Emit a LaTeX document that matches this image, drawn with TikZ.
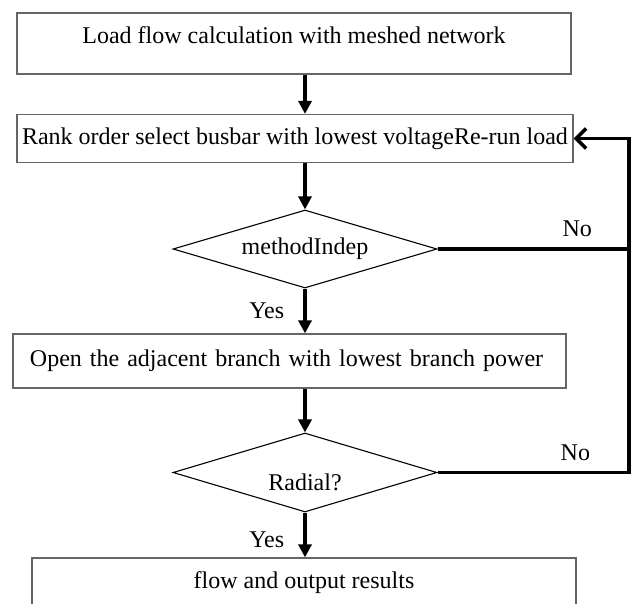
\documentclass[tikz,border=0pt]{standalone}
\usepackage{fontspec}
\setmainfont{Liberation Serif}
\usetikzlibrary{arrows.meta,shapes.geometric}

\begin{document}
\begin{tikzpicture}[
    x=1pt, y=-1pt,
    every node/.style={font=\fontsize{24}{29}\selectfont},
    block/.style={rectangle, draw=black!60, line width=1.2pt, inner sep=3pt},
    test/.style={diamond, draw, line width=1.1pt, aspect=3.3, minimum width=264pt, minimum height=78pt, inner sep=2pt},
    arrow/.style={-{Triangle[length=13pt, width=13pt]}, line width=3.6pt},
    back/.style={-{Straight Barb[length=10pt, width=20pt]}, line width=3.6pt},
    line/.style={line width=3.6pt},
    lbl/.style={inner sep=2pt}
]
\useasboundingbox (0,0) rectangle (635,603);
\node[block, minimum width=554pt, minimum height=61pt, text height=16pt, text depth=16pt] (load) at (294,43.5) {Load flow calculation with meshed network};
\node[block, minimum width=556pt, minimum height=48pt] (rank) at (295,138.5) {Rank order select busbar with lowest voltageRe-run load};
\node[test] (indep) at (305,249) {methodIndep};
\node[block, text width=519pt, align=left, inner xsep=17pt, minimum height=54pt] (open) at (289.5,361) {Open the adjacent branch with lowest branch power};
\node[test, minimum height=79pt, text height=36pt, text depth=0pt] (radial) at (305,472.5) {Radial?};
\node[block, minimum width=544pt, minimum height=50pt] (out) at (304,583) {flow and output results};
\coordinate (loop) at (629,138.5);

\draw[arrow] (load.south -| indep) -- (rank.north -| indep);
\draw[arrow] (rank.south -| indep) -- (indep.north);
\draw[arrow] (indep.south) -- (indep.south |- open.north) node[lbl, midway, left=17pt] (yes1) {Yes};
\draw[arrow] (open.south -| radial) -- (radial.north);
\draw[arrow] (radial.south) -- (radial.south |- out.north) node[lbl, pos=0.6, left=17pt] (yes2) {Yes};
\draw[line] (indep.east) -- (indep.east -| loop) node[lbl, pos=0.73, above=8pt] (no1) {No};
\draw[back] (radial.east) -- (radial.east -| loop) node[lbl, pos=0.72, above=8pt] (no2) {No} |- (rank.east);
\end{tikzpicture}
\end{document}
